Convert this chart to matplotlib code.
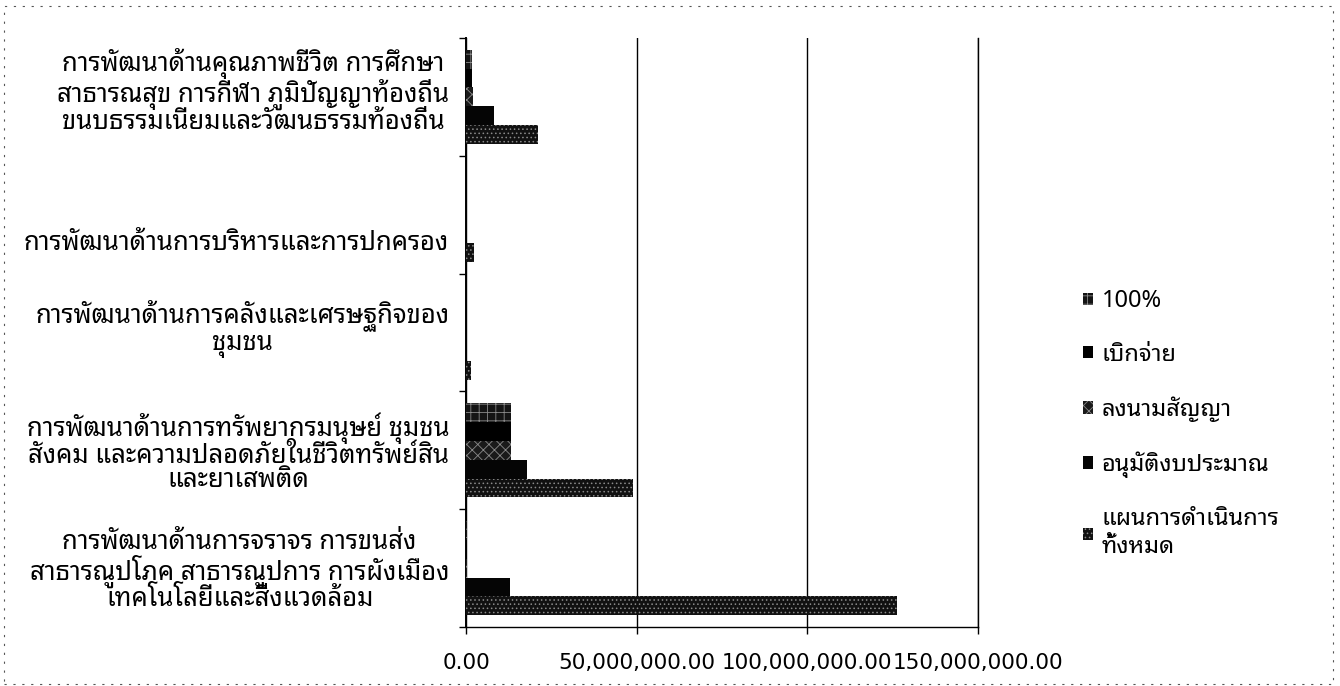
import matplotlib
matplotlib.use("Agg")
from matplotlib import pyplot as plt
from matplotlib.patches import Rectangle
from matplotlib.transforms import ScaledTranslation
import numpy as np

THAI = ['Noto Sans Thai Looped', 'DejaVu Sans']
plt.rcParams['font.family'] = THAI
plt.rcParams['hatch.color'] = '#8a8a8a'
plt.rcParams['hatch.linewidth'] = 0.6

# หมวดหมู่ (จากล่างขึ้นบน)
categories = [
    "การพัฒนาด้านการจราจร การขนส่ง\nสาธารณูปโภค สาธารณูปการ การผังเมือง\nเทคโนโลยีและสิ่งแวดล้อม",
    "การพัฒนาด้านการทรัพยากรมนุษย์ ชุมชน\nสังคม และความปลอดภัยในชีวิตทรัพย์สิน\nและยาเสพติด",
    "การพัฒนาด้านการคลังและเศรษฐกิจของ\nชุมชน",
    "การพัฒนาด้านการบริหารและการปกครอง",
    "การพัฒนาด้านคุณภาพชีวิต การศึกษา\nสาธารณสุข การกีฬา ภูมิปัญญาท้องถิ่น\nขนบธรรมเนียมและวัฒนธรรมท้องถิ่น",
]
series_names = ["แผนการดำเนินการ\nทั้งหมด", "อนุมัติงบประมาณ", "ลงนามสัญญา", "เบิกจ่าย", "100%"]
plan_total = [126.4e6, 49.0e6, 1.4e6, 2.2e6, 21.1e6]
approved   = [12.9e6, 17.9e6, 0.0, 0.0, 8.2e6]
contracted = [0.4e6, 13.2e6, 0.0, 0.0, 2.0e6]
disbursed  = [0.4e6, 13.2e6, 0.0, 0.0, 1.8e6]
full_100   = [0.4e6, 13.3e6, 0.0, 0.0, 1.8e6]
xticks = [0, 50e6, 100e6, 150e6]

series = [plan_total, approved, contracted, disbursed, full_100]
fills = ['#111111', '#050505', '#1a1a1a', '#000000', '#141414']
hatches = ['....', None, 'xxx', None, '++']
label_shift_px = [0, 0, 9, -26, 8]  # เลื่อนป้ายแกน y ขึ้น/ลง ให้ตรงกับต้นฉบับ

fig = plt.figure(figsize=(13.4, 6.86), dpi=100)
ax = fig.add_axes([466/1340, 1 - 627/686, (978 - 466)/1340, (627 - 38)/686])

y = np.arange(len(categories))
h = 0.16
bars = []
for i, vals in enumerate(series):
    b = ax.barh(y + (i - 2) * h, vals, height=h, color=fills[i], hatch=hatches[i],
                label=series_names[i], zorder=3)
    bars.append(b)

ax.set_xlim(0, 150e6)
ax.set_ylim(-0.5, len(categories) - 0.5)
ax.set_xticks(xticks)
ax.set_xticklabels([f"{v:,.2f}" for v in xticks], fontsize=15.5, family=['DejaVu Sans'])
ax.set_yticks(y)
ax.set_yticklabels(categories, fontsize=18.5, multialignment='center', linespacing=0.98)
ax.set_yticks(np.arange(-0.5, len(categories)), minor=True)
ax.tick_params(axis='y', which='major', length=0, pad=12)
ax.tick_params(axis='y', which='minor', length=5, width=1, direction='out')
ax.tick_params(axis='x', length=5, width=1, direction='out', pad=14)

for lbl, dy in zip(ax.get_yticklabels(), label_shift_px):
    if dy:
        lbl.set_transform(lbl.get_transform() + ScaledTranslation(0, dy / 100, fig.dpi_scale_trans))

ax.grid(axis='x', color='black', linewidth=1, zorder=0)
ax.spines['top'].set_visible(False)
ax.spines['right'].set_linewidth(1)
ax.spines['left'].set_linewidth(1.4)
ax.spines['bottom'].set_linewidth(1)

handles = bars[::-1]
labels = series_names[::-1]
fig.legend(handles, labels, loc='upper left', bbox_to_anchor=(1062/1340, 1 - 268/686),
           frameon=False, fontsize=17, handlelength=0.42, handleheight=0.42,
           handletextpad=0.35, labelspacing=1.25)

# กรอบรอบแผนภูมิ
fig.patches.append(Rectangle((0.003, 0.003), 0.992, 0.988, transform=fig.transFigure,
                             fill=False, edgecolor='#555555', linewidth=0.8,
                             linestyle=(0, (2, 6))))

fig.savefig("out.png", dpi=100)
